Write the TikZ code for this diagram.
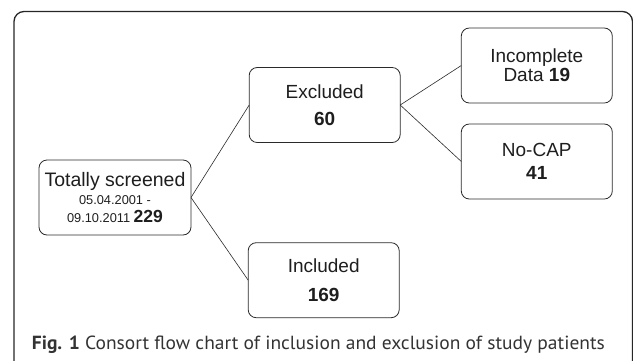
\documentclass[tikz,border=0pt]{standalone}
\usepackage{fontspec}
\setmainfont{Liberation Sans}
\newfontfamily\capfont{PT Sans}
\usepackage{graphicx}
\definecolor{linegray}{HTML}{2A2A2A}
\definecolor{txt}{HTML}{1E1E1E}
\definecolor{captxt}{HTML}{333333}
\begin{document}
\begin{tikzpicture}[x=1pt,y=-1pt,
  box/.style={draw=linegray, line width=0.8pt, rounded corners=8pt, minimum width=151pt, minimum height=75pt,
    inner sep=0pt, outer sep=0pt, align=center, text=txt},
  conn/.style={draw=linegray, line width=0.6pt}]
\useasboundingbox (0,0) rectangle (633,360);
\draw[line width=1.3pt, rounded corners=10pt, draw=black!85] (14,372) -- (14,11.5) -- (632.5,11.5) -- (632.5,372);
\node[box, minimum width=152pt, font=\fontsize{19.5}{18}\selectfont] (tot) at (115,197.5)
  {Totally screened\\{\fontsize{12.8}{18}\selectfont 05.04.2001 -}\\{\fontsize{12.8}{18}\selectfont 09.10.2011 }{\fontsize{17.5}{18}\selectfont\bfseries 229}};
\node[box, font=\fontsize{19}{27.4}\selectfont] (exc) at (324.7,105) {Excluded\\\textbf{60}};
\node[box, font=\fontsize{19}{29}\selectfont] (inc) at (323.7,280.2) {Included\\\textbf{169}};
\node[box, font=\fontsize{19}{19}\selectfont] (incd) at (536.8,65.5) {Incomplete\\Data \textbf{19}};
\node[box, font=\fontsize{19}{22.4}\selectfont] (nocap) at (536.8,161.5) {No-CAP\\\textbf{41}};
\draw[conn] (tot.east) -- (exc.west);
\draw[conn] (tot.east) -- (inc.west);
\draw[conn] (exc.east) -- (incd.west);
\draw[conn] (exc.east) -- (nocap.west);
\node[anchor=base west, inner sep=0pt, text=captxt] (cap) at (31.7,349)
  {\resizebox{573pt}{\height}{\capfont\fontsize{19}{22}\selectfont\textbf{Fig. 1} Consort flow chart of inclusion and exclusion of study patients}};
\end{tikzpicture}
\end{document}
